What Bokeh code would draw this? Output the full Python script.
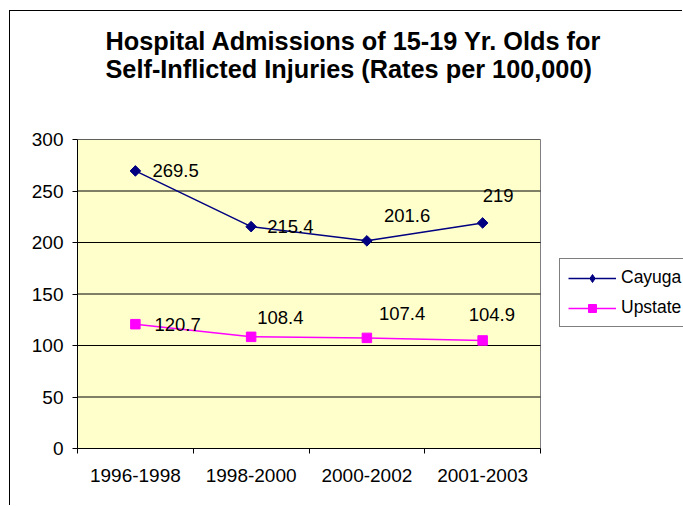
import numpy as np
from bokeh.plotting import figure
from bokeh.models import (ColumnDataSource, Range1d, FixedTicker, Legend, LegendItem, Title)
from bokeh.core.properties import value
from bokeh.embed import file_html
from bokeh.resources import INLINE

# ---- data ----
categories = ["1996-1998", "1998-2000", "2000-2002", "2001-2003"]
cayuga = [269.5, 215.4, 201.6, 219]
upstate = [120.7, 108.4, 107.4, 104.9]
y_ticks = [0, 50, 100, 150, 200, 250, 300]
series_names = ["Cayuga", "Upstate"]
title_text = "Hospital Admissions of 15-19 Yr. Olds for\nSelf-Inflicted Injuries (Rates per 100,000)"

# ---- label placement (style, pixels) ----
cayuga_dx = [17, 16, 17, 0]
cayuga_dy = [0, 0, -25, -27]
upstate_dx = [19, 6, 12, -14]
upstate_dy = [0, -19, -24, -26]

FONT = "Liberation Sans"
W, H = 673, 495
BORDER_L, BORDER_R = 67, 0          # frame spans to the right edge (room for the legend)
PLOT_AREA_W = 463                   # width in px of the yellow plot area

n = len(categories)
xs = list(np.arange(n) + 0.5)
edges = list(np.arange(n + 1).astype(float))
frame_w = W - BORDER_L - BORDER_R
x_end = n * frame_w / PLOT_AREA_W

p = figure(width=W, height=H, output_backend="svg", toolbar_location=None,
           x_range=Range1d(0, x_end), y_range=Range1d(y_ticks[0], y_ticks[-1]),
           min_border_left=BORDER_L, min_border_right=BORDER_R, min_border_top=128,
           min_border_bottom=58)
p.styles = {"margin-left": "9px", "margin-top": "10px",
            "border-left": "1px solid #000000", "border-top": "1px solid #000000"}

# spacer panel between the frame and the title
p.add_layout(Title(text=" ", text_font_size="1px", standoff=54), "above")
p.title = Title(text=title_text, align="left", offset=28, standoff=0, vertical_align="bottom",
                text_font=FONT, text_font_style="bold", text_font_size="25.3px",
                text_color="#000000", text_line_height=1.0)

p.background_fill_color = "#FFFFFF"
p.border_fill_color = "#FFFFFF"
p.outline_line_color = None

# plot area (yellow) and grid lines, limited to the category span
p.quad(left=0, right=n, bottom=y_ticks[0], top=y_ticks[-1],
       fill_color="#FFFFCC", line_color="#808080", line_width=1)
p.segment(x0=[0] * len(y_ticks), x1=[n] * len(y_ticks), y0=y_ticks, y1=y_ticks,
          line_color="#000000", line_width=1)
p.xgrid.grid_line_color = None
p.ygrid.grid_line_color = None

# y axis
ya = p.yaxis[0]
ya.ticker = FixedTicker(ticks=y_ticks)
ya.axis_line_color = "#000000"
ya.major_tick_line_color = "#000000"
ya.major_tick_in = 0
ya.major_tick_out = 5
ya.minor_tick_line_color = None
ya.major_label_text_font = FONT
ya.major_label_text_font_size = "19px"
ya.major_label_text_color = "#000000"
ya.major_label_standoff = 9

# x axis: labels at category centers, ticks at boundaries
xa = p.xaxis[0]
xa.bounds = (0, n)
xa.ticker = FixedTicker(ticks=xs, minor_ticks=edges)
xa.major_label_overrides = {float(v): c for v, c in zip(xs, categories)}
xa.axis_line_color = "#000000"
xa.major_tick_line_color = None
xa.minor_tick_line_color = "#000000"
xa.minor_tick_in = 0
xa.minor_tick_out = 5
xa.major_label_text_font = FONT
xa.major_label_text_font_size = "19px"
xa.major_label_text_color = "#000000"
xa.major_label_standoff = 14

fmt = lambda v: f"{v:g}"
src_c = ColumnDataSource(dict(x=xs, y=cayuga, lab=[fmt(v) for v in cayuga], dx=cayuga_dx, dy=cayuga_dy))
src_u = ColumnDataSource(dict(x=xs, y=upstate, lab=[fmt(v) for v in upstate], dx=upstate_dx, dy=upstate_dy))

navy = "#000080"
magenta = "#FF00FF"

lc = p.line("x", "y", source=src_c, line_color=navy, line_width=1.5)
# diamond glyph used as the legend swatch (hidden under the plot markers)
mc_leg = p.scatter("x", "y", source=src_c, marker="diamond", size=6,
                   fill_color=navy, line_color=navy)
mc = p.scatter("x", "y", source=src_c, marker="square", angle=np.pi / 4, size=7.5,
               fill_color=navy, line_color=navy)
lu = p.line("x", "y", source=src_u, line_color=magenta, line_width=1.5)
mu = p.scatter("x", "y", source=src_u, marker="square", size=9.5,
               fill_color=magenta, line_color=magenta)

for src in (src_c, src_u):
    p.text("x", "y", text="lab", source=src, x_offset="dx", y_offset="dy",
           text_font=value(FONT), text_font_size="18.5px", text_color="#000000",
           text_align="left", text_baseline="middle")

legend = Legend(items=[LegendItem(label=series_names[0], renderers=[lc, mc_leg]),
                       LegendItem(label=series_names[1], renderers=[lu, mu])],
                location=(482, 121), orientation="vertical",
                border_line_color="#000000", border_line_width=1,
                background_fill_color="#FFFFFF", background_fill_alpha=1,
                label_text_font=FONT, label_text_font_size="17.5px", label_text_color="#000000",
                glyph_width=48, glyph_height=20, label_height=20, label_standoff=5,
                spacing=9, padding=8, margin=0)
p.add_layout(legend, "center")

open("out.html", "w").write(file_html(p, INLINE))
